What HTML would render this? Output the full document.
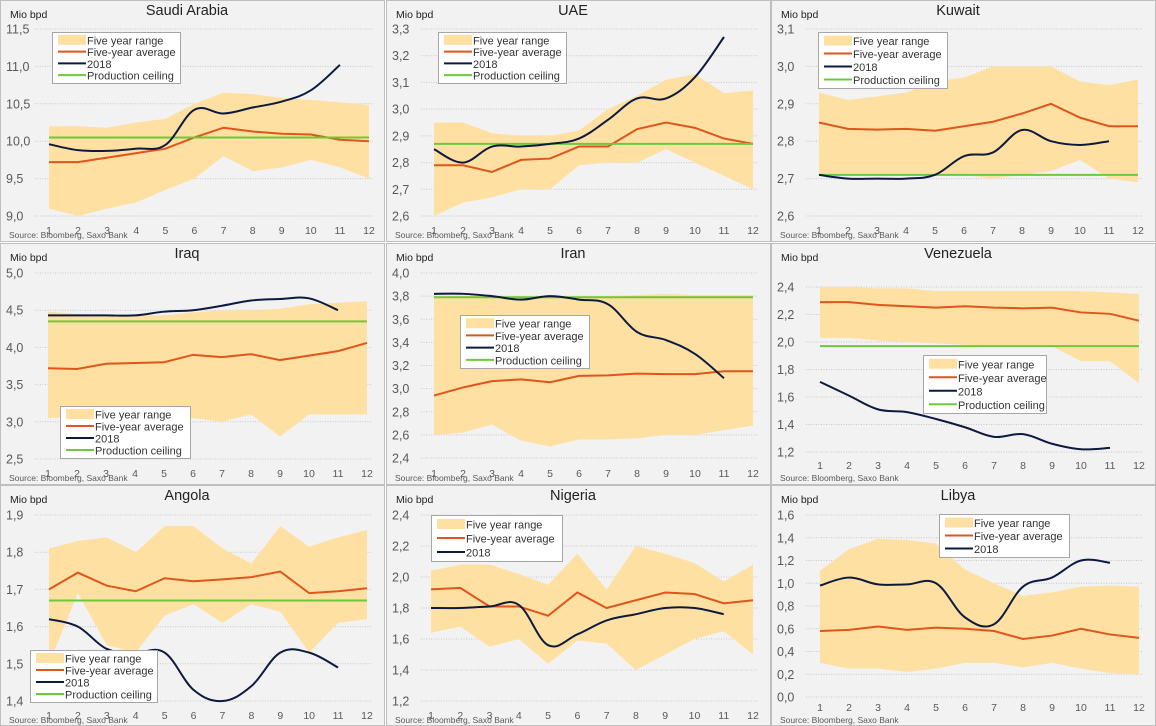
<!DOCTYPE html>
<html><head><meta charset="utf-8">
<style>
html,body{margin:0;padding:0;background:#ffffff;}
svg{display:block;font-family:"Liberation Sans",Arial,sans-serif;}
</style></head>
<body>
<svg id="chart" width="1156" height="726" viewBox="0 0 1156 726" xmlns="http://www.w3.org/2000/svg"></svg>
<script>
const months = [1,2,3,4,5,6,7,8,9,10,11,12];

const saudiHi = [10.2,10.2,10.18,10.25,10.3,10.5,10.65,10.63,10.58,10.55,10.52,10.48];
const saudiLo = [9.1,9.0,9.1,9.18,9.35,9.5,9.8,9.6,9.65,9.75,9.65,9.5];
const saudiAvg = [9.72,9.72,9.78,9.84,9.9,10.05,10.18,10.13,10.1,10.09,10.02,10.0];
const saudi2018 = [9.96,9.88,9.87,9.9,9.95,10.42,10.37,10.45,10.53,10.68,11.02];
const saudiCeil = 10.05;

const uaeHi = [2.95,2.95,2.91,2.9,2.9,2.92,3.0,3.05,3.11,3.13,3.06,3.07];
const uaeLo = [2.6,2.65,2.67,2.7,2.7,2.79,2.8,2.8,2.85,2.8,2.75,2.7];
const uaeAvg = [2.79,2.79,2.765,2.81,2.815,2.86,2.86,2.925,2.95,2.93,2.89,2.87];
const uae2018 = [2.85,2.8,2.86,2.86,2.87,2.89,2.96,3.04,3.04,3.12,3.27];
const uaeCeil = 2.87;

const kuwaitHi = [2.93,2.91,2.92,2.93,2.96,2.97,3.0,3.0,3.0,2.96,2.95,2.965];
const kuwaitLo = [2.71,2.71,2.71,2.71,2.71,2.71,2.7,2.71,2.72,2.75,2.7,2.69];
const kuwaitAvg = [2.85,2.833,2.831,2.833,2.828,2.84,2.852,2.874,2.9,2.863,2.84,2.84];
const kuwait2018 = [2.71,2.7,2.7,2.7,2.71,2.76,2.77,2.83,2.8,2.79,2.8];
const kuwaitCeil = 2.71;

const iraqHi = [4.48,4.45,4.43,4.43,4.43,4.47,4.5,4.5,4.52,4.58,4.6,4.62];
const iraqLo = [3.05,3.07,3.1,3.1,3.05,3.05,3.0,3.1,2.8,3.1,3.1,3.1];
const iraqAvg = [3.72,3.71,3.78,3.79,3.8,3.9,3.87,3.91,3.83,3.89,3.95,4.06];
const iraq2018 = [4.43,4.43,4.43,4.43,4.48,4.5,4.56,4.63,4.65,4.66,4.5];
const iraqCeil = 4.35;

const iranHi = [3.8,3.8,3.8,3.8,3.8,3.8,3.8,3.81,3.82,3.81,3.81,3.81];
const iranLo = [2.6,2.62,2.69,2.55,2.5,2.56,2.56,2.57,2.6,2.6,2.64,2.68];
const iranAvg = [2.94,3.01,3.065,3.08,3.055,3.11,3.115,3.13,3.125,3.125,3.15,3.15];
const iran2018 = [3.82,3.82,3.8,3.77,3.8,3.77,3.73,3.49,3.42,3.3,3.09];
const iranCeil = 3.79;

const venHi = [2.4,2.4,2.39,2.39,2.37,2.37,2.37,2.37,2.37,2.37,2.36,2.35];
const venLo = [2.03,2.03,2.01,2.0,1.99,1.98,1.97,1.97,1.97,1.86,1.86,1.7];
const venAvg = [2.29,2.29,2.27,2.26,2.25,2.26,2.25,2.245,2.25,2.215,2.205,2.155];
const ven2018 = [1.71,1.61,1.51,1.49,1.44,1.38,1.31,1.33,1.26,1.22,1.23];
const venCeil = 1.97;

const angHi = [1.81,1.83,1.84,1.8,1.87,1.87,1.81,1.77,1.87,1.815,1.84,1.86];
const angLo = [1.5,1.69,1.55,1.53,1.63,1.66,1.61,1.66,1.64,1.53,1.61,1.62];
const angAvg = [1.7,1.745,1.71,1.695,1.73,1.722,1.727,1.733,1.748,1.69,1.695,1.703];
const ang2018 = [1.62,1.6,1.54,1.53,1.53,1.43,1.4,1.44,1.53,1.53,1.49];
const angCeil = 1.67;

const nigHi = [2.04,2.08,2.08,2.02,1.95,2.15,1.92,2.2,2.15,2.09,1.97,2.08];
const nigLo = [1.64,1.68,1.55,1.6,1.44,1.59,1.57,1.4,1.5,1.6,1.65,1.5];
const nigAvg = [1.92,1.93,1.81,1.81,1.75,1.9,1.8,1.85,1.9,1.89,1.83,1.85];
const nig2018 = [1.8,1.8,1.81,1.82,1.56,1.63,1.72,1.76,1.8,1.8,1.76];

const libHi = [1.11,1.3,1.39,1.38,1.35,1.12,1.0,0.89,0.92,0.97,0.98,0.97];
const libLo = [0.3,0.25,0.25,0.22,0.25,0.3,0.3,0.26,0.3,0.25,0.21,0.2];
const libAvg = [0.58,0.59,0.62,0.59,0.61,0.6,0.58,0.51,0.54,0.6,0.55,0.52];
const lib2018 = [0.98,1.05,0.99,0.99,1.0,0.7,0.64,0.97,1.05,1.2,1.18];

const titles = ["Saudi Arabia","UAE","Kuwait","Iraq","Iran","Venezuela","Angola","Nigeria","Libya"];
const yMins = [9.0,2.6,2.6,2.5,2.4,1.2,1.4,1.2,0.0];
const yMaxs = [11.5,3.3,3.1,5.0,4.0,2.4,1.9,2.4,1.6];
const ySteps = [0.5,0.1,0.1,0.5,0.2,0.2,0.1,0.2,0.2];

const NS = "http://www.w3.org/2000/svg";
const svg = document.getElementById('chart');
function mk(tag, attrs, parent){
  const e = document.createElementNS(NS, tag);
  for (const k in attrs) e.setAttribute(k, attrs[k]);
  (parent||svg).appendChild(e);
  return e;
}
const colX = [0,386,771];
const rowY = [0,243,485];
const panelW = [384,384,384];
const panelH = [241,241,240];
const layout = [
  {x1:49,x12:369,yTop:29,yBot:216,leg:[52,32,180,83],xl:230},
  {x1:48,x12:367,yTop:29,yBot:216,leg:[52,32,180,83],xl:230},
  {x1:48,x12:367,yTop:29,yBot:216,leg:[47,32,176,88],xl:230},
  {x1:48,x12:367,yTop:30,yBot:216,leg:[60,163,190,215],xl:230},
  {x1:48,x12:367,yTop:30,yBot:215,leg:[74,72,203,125],xl:230},
  {x1:49,x12:368,yTop:44,yBot:209,leg:[152,112,275,170],xl:222},
  {x1:49,x12:367,yTop:30,yBot:216,leg:[30,165,157,217],xl:230},
  {x1:45,x12:367,yTop:30,yBot:216,leg:[45,30,176,76],xl:230},
  {x1:49,x12:368,yTop:30,yBot:212,leg:[168,29,298,72],xl:222}
];
const series = [
  [saudiHi,saudiLo,saudiAvg,saudi2018,saudiCeil],
  [uaeHi,uaeLo,uaeAvg,uae2018,uaeCeil],
  [kuwaitHi,kuwaitLo,kuwaitAvg,kuwait2018,kuwaitCeil],
  [iraqHi,iraqLo,iraqAvg,iraq2018,iraqCeil],
  [iranHi,iranLo,iranAvg,iran2018,iranCeil],
  [venHi,venLo,venAvg,ven2018,venCeil],
  [angHi,angLo,angAvg,ang2018,angCeil],
  [nigHi,nigLo,nigAvg,nig2018,null],
  [libHi,libLo,libAvg,lib2018,null]
];

function smoothPath(pts){
  let d = "M"+pts[0][0]+","+pts[0][1];
  for (let i=0;i<pts.length-1;i++){
    const p0=pts[Math.max(0,i-1)], p1=pts[i], p2=pts[i+1], p3=pts[Math.min(pts.length-1,i+2)];
    const t=0.18;
    const c1x=p1[0]+(p2[0]-p0[0])*t, c1y=p1[1]+(p2[1]-p0[1])*t;
    const c2x=p2[0]-(p3[0]-p1[0])*t, c2y=p2[1]-(p3[1]-p1[1])*t;
    d+=" C"+c1x+","+c1y+" "+c2x+","+c2y+" "+p2[0]+","+p2[1];
  }
  return d;
}
const slugs = ["saudi-arabia","uae","kuwait","iraq","iran","venezuela","angola","nigeria","libya"];

for (let p=0;p<9;p++){
  const ox = colX[p%3], oy = rowY[Math.floor(p/3)];
  const L = layout[p];
  const [hi,lo,avg,y18,ceil] = series[p];
  const g = mk('g',{transform:`translate(${ox},${oy})`});
  
  
  const bg = mk('rect',{x:0.5,y:0.5,width:panelW[p%3],height:panelH[Math.floor(p/3)],fill:'#f2f2f2',stroke:'#bfbfbf'},g);
  
  
  const xs = m => L.x1 + (m-1)*(L.x12-L.x1)/11;
  const ys = v => L.yBot - (v-yMins[p])*(L.yBot-L.yTop)/(yMaxs[p]-yMins[p]);
  const nT = Math.round((yMaxs[p]-yMins[p])/ySteps[p]);
  for (let i=0;i<=nT;i++){
    const v = yMins[p]+i*ySteps[p];
    const y = ys(v);
    const gl = mk('line',{x1:35,x2:L.x12+4,y1:y,y2:y,stroke:'#c8c8c8','stroke-dasharray':'1,1.5','stroke-width':1},g);
    
    
    const t = mk('text',{x:6,y:y+4.5,'font-size':12.5,fill:'#595959'},g);
    
    
    t.textContent = v.toFixed(1).replace('.',',');
  }
  months.forEach(m=>{
    const t = mk('text',{x:xs(m),y:L.xl+4,'font-size':10.5,fill:'#595959','text-anchor':'middle'},g);
    
    
    t.textContent = m;
  });
  let d = "M"+months.map(m=>xs(m)+","+ys(hi[m-1])).join(" L");
  d += " L"+months.slice().reverse().map(m=>xs(m)+","+ys(lo[m-1])).join(" L")+" Z";
  const band = mk('path',{d:d,fill:'#ffe0a3',stroke:'none'},g);
  
  
  const av = mk('polyline',{points:months.map(m=>xs(m)+","+ys(avg[m-1])).join(" "),fill:'none',stroke:'#e0551b','stroke-width':2},g);
  
  
  if (ceil!==null){
    const c = mk('line',{x1:xs(1),x2:xs(12),y1:ys(ceil),y2:ys(ceil),stroke:'#6cc93a','stroke-width':2},g);
    
    
  }
  const pts = y18.map((v,i)=>[xs(months[i]),ys(v)]);
  const l18 = mk('path',{d:smoothPath(pts),fill:'none',stroke:'#0d1a3f','stroke-width':2},g);
  
  
  const tt = mk('text',{x:187,y:15,'font-size':14.5,fill:'#222','text-anchor':'middle'},g);
  
  
  tt.textContent = titles[p];
  const un = mk('text',{x:10,y:18,'font-size':10.5,fill:'#222'},g);
  
  
  un.textContent = 'Mio bpd';
  const src = mk('text',{x:9,y:238,'font-size':8.5,fill:'#595959'},g);
  
  
  src.textContent = 'Source:  Bloomberg, Saxo Bank';
  const [lx,ly,lx2,ly2] = L.leg;
  const lg = mk('g',{},g);
  
  
  mk('rect',{x:lx+0.5,y:ly+0.5,width:lx2-lx,height:ly2-ly,fill:'#ffffff',stroke:'#a6a6a6'},lg);
  const items = [['Five year range','band'],['Five-year average','#e0551b'],['2018','#0d1a3f']];
  if (ceil!==null) items.push(['Production ceiling','#6cc93a']);
  const rowH = (ly2-ly-4)/items.length;
  items.forEach((it,i)=>{
    const cy = ly+2+rowH*(i+0.5);
    const e = mk('g',{},lg);
    
    
    if (it[1]==='band') mk('rect',{x:lx+6,y:cy-5,width:28,height:10,fill:'#ffe0a3'},e);
    else mk('line',{x1:lx+6,x2:lx+34,y1:cy,y2:cy,stroke:it[1],'stroke-width':2},e);
    const t = mk('text',{x:lx+35,y:cy+4.5,'font-size':11,fill:'#333'},e);
    t.textContent = it[0];
  });
}
</script>
</body></html>
